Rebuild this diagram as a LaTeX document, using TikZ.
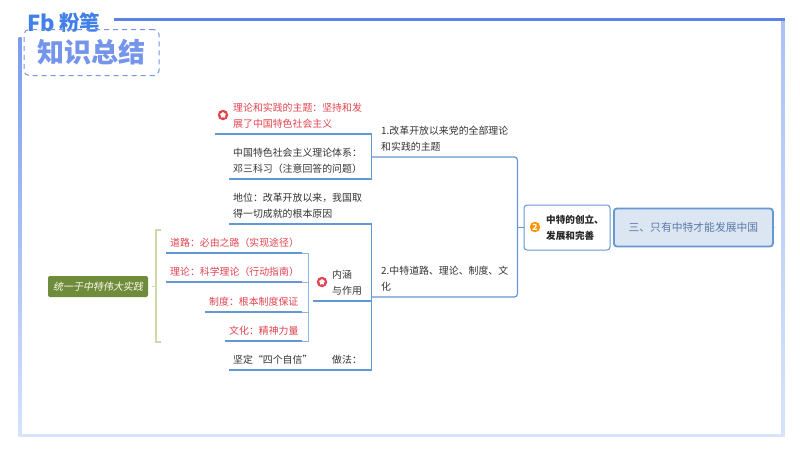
\documentclass[tikz,border=0pt]{standalone}
\usepackage{fontspec}
\setmainfont{Noto Sans CJK SC}
\newfontfamily\slantfont[FakeSlant=0.2]{Noto Sans CJK SC}
\usetikzlibrary{positioning,shapes.geometric}
\definecolor{framblue}{HTML}{5B82E8}
\definecolor{framepale}{HTML}{D6E3FB}
\definecolor{stemblue}{HTML}{6597D2}
\definecolor{flagred}{HTML}{E2434F}
\definecolor{inkgrey}{HTML}{333333}
\definecolor{leafgreen}{HTML}{6F8C3C}
\definecolor{bracegreen}{HTML}{CDD9A6}
\definecolor{topicfill}{HTML}{DCE6F2}
\definecolor{topicink}{HTML}{5A7AA8}
\definecolor{brandblue}{HTML}{4080E8}
\tikzset{
  leaf/.style={anchor=south west,inner xsep=4pt,inner ysep=5.5pt,align=left,text width=#1,text=inkgrey},
  redleaf/.style={leaf=#1,text=flagred},
  stem/.style={draw=stemblue,line width=1.2pt},
  twig/.style={draw=stemblue!70,line width=.5pt},
  flag/.style={circle,fill=flagred,minimum size=10.5pt,inner sep=0pt},
  flagstar/.style={star,star points=5,fill=white,minimum size=6.5pt,inner sep=0pt},
}
\begin{document}
\begin{tikzpicture}[x=1pt,y=-1pt,font=\fontsize{9.9}{16}\selectfont]
    \useasboundingbox (0,0) rectangle (800,450);%
    \fill[white] (0,0) rectangle (800,450);%
    \draw[framepale,line width=3pt] (20,435) -- (783,435);%
    \shade[top color=framblue!80,bottom color=framepale] (18.5,37) rectangle (21.5,436);%
    \shade[top color=framblue!50,bottom color=framepale] (781.5,19) rectangle (784.5,436);%
    \draw[framblue,line width=3pt] (114,19) -- (784.5,19);%
    \node[font=\fontsize{22}{22}\selectfont\bfseries,text=brandblue,inner sep=0pt] (brand) at (41,23) {Fb};%
    \node[font=\fontsize{20.5}{20.5}\selectfont\bfseries,text=brandblue,inner sep=0pt,right=4pt of brand] (brandcn) {粉笔};%
    \node[draw=framblue!85,dash pattern=on 5pt off 4pt,line width=1pt,rounded corners=5pt,minimum width=135pt,minimum height=46pt,inner sep=0pt,
      font=\fontsize{27}{27}\selectfont\bfseries,text=framblue!85] (recap) at (91.5,52.5) {\raisebox{-4pt}{知识总结}};%
    \node[leaf=134pt,text=flagred] (theme) at (229,134) {理论和实践的主题：坚持和发\\展了中国特色社会主义};%
    \node[flag] (themeflag) at (223,115) {};%
    \node[flagstar] at (themeflag) {};%
    \node[below=45pt of theme.south west,leaf=134pt] (system) {中国特色社会主义理论体系：\\邓三科习（注意回答的问题）};%
    \node[below=45pt of system.south west,leaf=134pt] (status) {地位：改革开放以来，我国取\\得一切成就的根本原因};%
    \node[leaf=76pt] (faith) at (229,370) {坚定“四个自信”};%
    \node[leaf=35pt] (method) at (328,370) {做法：};%
    \node[leaf=35pt] (meaning) at (328,301) {内涵\\与作用};%
    \node[flag] (meaningflag) at (322,282) {};%
    \node[flagstar] at (meaningflag) {};%
    \node[redleaf=128pt] (road) at (166,253) {道路：必由之路（实现途径）};%
    \node[below=29pt of road.south west,redleaf=128pt] (theory) {理论：科学理论（行动指南）};%
    \node[redleaf=89pt] (institution) at (205,312) {制度：根本制度保证};%
    \node[below=29pt of institution.south east,redleaf=69pt,anchor=south east] (culture) {文化：精神力量};%
    \coordinate (spine) at (308,301);%
    \node[leaf=126pt,inner xsep=10pt] (first) at (371,157) {1.改革开放以来党的全部理论\\和实践的主题};%
    \node[below=140pt of first.south west,leaf=126pt,inner xsep=10pt] (second) {2.中特道路、理论、制度、文\\化};%
    \node[draw=stemblue,line width=1pt,rounded corners=3pt,fill=white,minimum width=86pt,minimum height=45pt,inner sep=0pt,
      align=left,font=\fontsize{9.6}{16}\selectfont\bfseries,text=black!85] (origin) at (567,227.5) {\hspace*{16pt}中特的创立、\\\hspace*{16pt}发展和完善};%
    \node[circle,fill=orange!85!yellow,minimum size=10.5pt,inner sep=0pt,text=white,font=\fontsize{8.5}{8.5}\selectfont\bfseries] (originflag) at (535,227) {2};%
    \node[draw=stemblue,line width=1.8pt,rounded corners=3pt,fill=topicfill,minimum width=159pt,minimum height=38pt,inner sep=0pt,
      font=\fontsize{10.8}{14}\selectfont,text=topicink,right=46pt of origin.center,anchor=west] (topic) {三、只有中特才能发展中国};%
    \coordinate (topicend) at (775,227);%
    \node[fill=leafgreen,rounded corners=2pt,minimum width=100pt,minimum height=21pt,inner sep=0pt,text=white!92!yellow,
      font=\fontsize{10}{12}\slantfont] (unity) at (98,286.5) {统一于中特伟大实践};%
    \draw[bracegreen,line width=1.6pt] (161,230) -- (156,230) -- (156,342) -- (161,342);%
    \draw[bracegreen,line width=1.6pt] (unity.east) ++(4,0) -- (156,286.5);%
    \draw[stem] ([xshift=-3pt]themeflag.west |- theme.south) -- (theme.south east) -- (system.south east) -- (system.south west);%
    \draw[stem] (status.south west) -- (status.south east) -- (method.south east) -- (faith.south west);%
    \draw[stem] ([xshift=-4pt]meaningflag.west |- meaning.south) -- (meaning.south east);%
    \draw[stem] (road.south west) -- (road.south east);%
    \draw[stem] (theory.south west) -- (theory.south east);%
    \draw[stem] (institution.south west) -- (institution.south east);%
    \draw[stem] (culture.south west) -- (culture.south east);%
    \draw[twig] (road.south east) -- (road.south east -| spine) -- (culture.south east -| spine) -- (culture.south east);%
    \draw[twig] (theory.south east) -- (theory.south east -| spine);%
    \draw[twig] (institution.south east) -- (institution.south east -| spine);%
    \draw[stem,rounded corners=3pt] (first.south west) -- (first.south east) -- (second.south east) -- (second.south west);%
    \draw[stem] (origin.west) -- (origin.west -| first.south east);%
    \draw[twig] (topic.east) -- (topicend);%
  \end{tikzpicture}
\end{document}
